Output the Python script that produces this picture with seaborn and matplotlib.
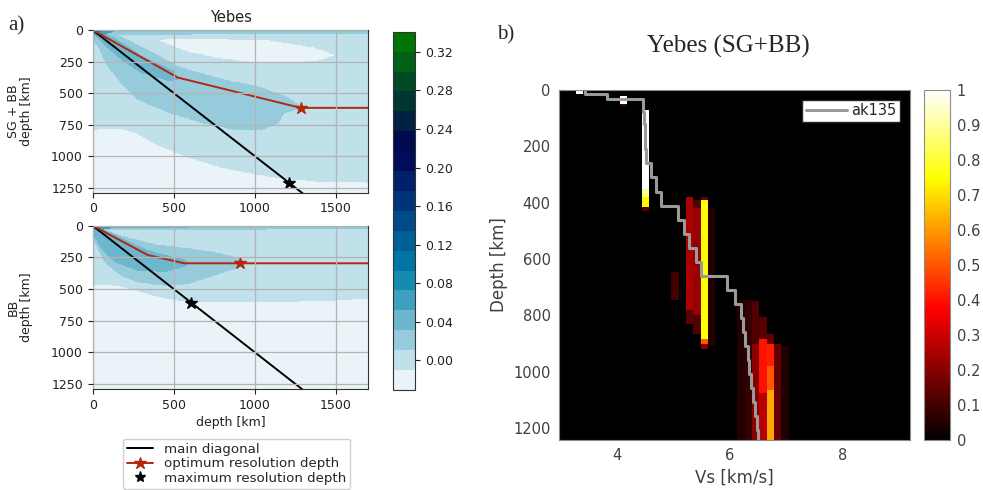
import numpy as np
import pandas as pd
import matplotlib
matplotlib.use('Agg')
import matplotlib.pyplot as plt
from matplotlib.path import Path
from matplotlib.lines import Line2D
from matplotlib.colors import LinearSegmentedColormap
import seaborn as sns

sns.set_style('ticks')
plt.rcParams['font.family'] = ['DejaVu Sans']

## a) resolution matrices -- colour bands (km)
LEVELS = np.linspace(-0.031, 0.341, 19)
BAND = LEVELS[:-1] + np.diff(LEVELS) / 2
CBAR_TICKS = [0.00, 0.04, 0.08, 0.12, 0.16, 0.20, 0.24, 0.28, 0.32]

sgbb_regions = [
    (0, [(-20, 791), (94, 778), (176, 778), (279, 818), (381, 898), (586, 1005), (791, 1086),
         (996, 1139), (1201, 1179), (1406, 1198), (1720, 1206), (1720, 1320), (-20, 1320)]),
    (0, [(402, 80), (443, 70), (791, 68), (1098, 80), (1365, 135), (1508, 198), (1406, 243),
         (1201, 270), (996, 262), (791, 230), (586, 176), (420, 95)]),
    (2, [(-20, -20), (1720, -20), (1720, 25), (600, 30), (-20, 30)]),
    (2, [(-20, -20), (100, 20), (176, 56), (381, 190), (535, 297), (791, 390), (1037, 457),
         (1201, 537), (1262, 591), (1300, 612), (1262, 625), (1180, 658), (1139, 738),
         (1037, 791), (893, 791), (689, 738), (484, 658), (279, 551), (176, 417), (94, 283),
         (33, 123), (-20, 60)]),
    (3, [(-20, -20), (60, 20), (176, 100), (300, 210), (450, 300), (504, 330), (520, 390),
         (480, 400), (450, 390), (300, 337), (176, 230), (80, 120), (20, 40), (-20, 20)]),
    (4, [(-20, -20), (130, -20), (120, 12), (60, 35), (20, 40), (-20, 20)]),
    (6, [(-20, -20), (60, -20), (40, 12), (10, 20), (-20, 10)]),
]

bb_regions = [
    (0, [(-20, 471), (94, 465), (176, 476), (279, 511), (381, 551), (504, 583), (689, 599),
         (996, 604), (1406, 591), (1720, 572), (1720, 1320), (-20, 1320)]),
    (2, [(-20, -20), (1720, -20), (1720, 22), (-20, 30)]),
    (2, [(-20, -20), (33, 16), (176, 83), (381, 150), (586, 182), (791, 222), (893, 257),
         (934, 297), (873, 337), (750, 390), (586, 457), (443, 471), (279, 444), (176, 390),
         (74, 283), (12, 123), (-20, 60)]),
    (3, [(-20, -20), (100, 55), (340, 200), (566, 272), (585, 295), (566, 318), (443, 364),
         (279, 350), (135, 283), (53, 176), (5, 60), (-20, 30)]),
    (3, [(-20, -20), (1200, -20), (1200, 8), (-20, 12)]),
    (4, [(-20, -20), (150, -20), (100, 20), (30, 30), (-20, 15)]),
    (6, [(-20, -20), (50, -20), (30, 10), (-20, 8)]),
]

# optimum resolution depth curves and maximum resolution depth
sgbb_opt_x = [0, 525, 1283, 1700]
sgbb_opt_y = [0, 377, 617, 617]
sgbb_max = 1212
bb_opt_x = [0, 340, 566, 910, 1700]
bb_opt_y = [0, 232, 297, 297, 297]
bb_max = 609

## b) Vs posterior (cells read off the figure)
VS_EDGES = 2.89 + 0.13 * np.arange(50)
DEPTH_EDGES = np.arange(0, 1255, 5)
# (vs left edge, top, bottom, probability)
vs_blocks = [
    (3.28, 0, 15, 1.0),
    (4.06, 18, 51, 1.0), (4.06, 51, 57, 0.1),
    (4.45, 68, 350, 1.0), (4.45, 350, 380, 0.88), (4.45, 380, 414, 0.74), (4.45, 414, 432, 0.12),
    (4.97, 644, 745, 0.1),
    (5.23, 378, 780, 0.25), (5.23, 780, 828, 0.14),
    (5.36, 390, 420, 0.12), (5.36, 420, 800, 0.22), (5.36, 800, 863, 0.12),
    (5.49, 378, 390, 0.15), (5.49, 390, 887, 0.75), (5.49, 887, 899, 0.5), (5.49, 899, 922, 0.2),
    (5.62, 415, 911, 0.05),
    (6.14, 745, 1250, 0.05),
    (6.27, 745, 1250, 0.08),
    (6.40, 751, 900, 0.12), (6.40, 900, 1250, 0.2),
    (6.53, 804, 887, 0.13), (6.53, 887, 1076, 0.40), (6.53, 1076, 1250, 0.27),
    (6.66, 863, 899, 0.15), (6.66, 899, 981, 0.42), (6.66, 981, 1064, 0.5), (6.66, 1064, 1250, 0.62),
    (6.79, 899, 1250, 0.15),
    (6.92, 910, 1250, 0.05),
]

ak135_depth = [0, 15, 33, 77.5, 120, 165, 210, 260, 310, 360, 410, 460, 510, 560, 610, 660,
               710, 760, 809.5, 859, 908.5, 958, 1007.5, 1057, 1106.5, 1156, 1205.5, 1255]
ak135_vs = [3.44, 3.83, 4.47, 4.49, 4.50, 4.51, 4.52, 4.61, 4.70, 4.78, 5.08, 5.19, 5.29, 5.40,
            5.50, 5.96, 6.09, 6.21, 6.24, 6.28, 6.32, 6.35, 6.39, 6.42, 6.45, 6.48, 6.51, 6.54]

### build the fields
gx = np.arange(0, 1705, 5.0)
gy = np.arange(0, 1305, 5.0)
GX, GY = np.meshgrid(gx, gy)
pts = np.column_stack([GX.ravel(), GY.ravel()])


def field(regions):
    z = np.full(GX.shape, BAND[1])
    for band, poly in regions:
        inside = Path(poly).contains_points(pts).reshape(GX.shape)
        z[inside] = BAND[band]
    return z


H = np.zeros((len(DEPTH_EDGES) - 1, len(VS_EDGES) - 1))
dmid = DEPTH_EDGES[:-1] + 2.5
for vs_left, top, bot, val in vs_blocks:
    col = int(round((vs_left - 2.89) / 0.13))
    H[(dmid >= top) & (dmid < bot), col] = val

# matlab-like hot (pure black at zero)
hot = LinearSegmentedColormap.from_list(
    'mhot', [(0, 'black'), (0.375, 'red'), (0.75, 'yellow'), (1, 'white')])

## Figure
fig = plt.figure(figsize=(9.83, 4.90), dpi=100)
ax1 = fig.add_axes([0.0943, 0.6067, 0.2804, 0.332])
ax2 = fig.add_axes([0.0943, 0.2061, 0.2804, 0.3333])
cax1 = fig.add_axes([0.3995, 0.2041, 0.0227, 0.7312])
ax3 = fig.add_axes([0.5687, 0.102, 0.3571, 0.7153])
cax3 = fig.add_axes([0.9403, 0.102, 0.026, 0.7143])

red = '#b3260f'
for ax, regions, ox, oy, mx, lab in [(ax1, sgbb_regions, sgbb_opt_x, sgbb_opt_y, sgbb_max, 'SG + BB\ndepth [km]'),
                                     (ax2, bb_regions, bb_opt_x, bb_opt_y, bb_max, 'BB\ndepth [km]')]:
    cs = ax.contourf(GX, GY, field(regions), levels=LEVELS, cmap='ocean_r')
    ax.plot([0, 1700], [0, 1700], color='black', lw=1.4)
    ax.plot(ox, oy, color=red, lw=1.4)
    ax.plot(ox[-2], oy[-2], marker='*', color=red, ms=9, ls='none')
    ax.plot(mx, mx, marker='*', color='black', ms=9, ls='none')
    ax.set_xlim(0, 1700)
    ax.set_ylim(1290, 0)
    ax.set_xticks([0, 500, 1000, 1500])
    ax.set_yticks([0, 250, 500, 750, 1000, 1250])
    ax.set_axisbelow(False)
    ax.grid(True, color='#b4b4b4', lw=0.9)
    ax.tick_params(labelsize=9, length=3.5, width=0.8, colors='#222222')
    for s in ax.spines.values():
        s.set_color('#333333')
        s.set_linewidth(0.8)
    ax.set_ylabel(lab, fontsize=9, color='#222222', linespacing=1.0)
    ax.yaxis.set_label_coords(-0.217, 0.5)

ax1.set_title('Yebes', fontsize=10.5, pad=6, color='#222222')
ax2.set_xlabel('depth [km]', fontsize=9, color='#222222', labelpad=3)

cb1 = fig.colorbar(cs, cax=cax1, ticks=CBAR_TICKS)
cb1.ax.set_yticklabels(['%.2f' % t for t in CBAR_TICKS])
cb1.ax.tick_params(labelsize=9, length=3.5, width=0.8, colors='#222222')
cb1.outline.set_edgecolor('#333333')
cb1.outline.set_linewidth(0.8)

handles = [Line2D([], [], color='black', lw=1.4),
           Line2D([], [], color=red, lw=1.4, marker='*', ms=9),
           Line2D([], [], color='black', ls='none', marker='*', ms=8)]
fig.legend(handles, ['main diagonal', 'optimum resolution depth', 'maximum resolution depth'],
           loc='upper center', bbox_to_anchor=(0.2406, 1 - 432 / 490), fontsize=9.6,
           handlelength=2.0, borderpad=0.3, labelspacing=0.12, handletextpad=0.8,
           framealpha=1, edgecolor='#d0d0d0')

## b)
mesh = ax3.pcolormesh(VS_EDGES, DEPTH_EDGES, H, cmap=hot, vmin=0, vmax=1, shading='flat')
ak = pd.DataFrame({'vs': ak135_vs, 'depth': ak135_depth})
sns.lineplot(data=ak, x='vs', y='depth', sort=False, estimator=None, ax=ax3,
             color='#9a9a9a', lw=2.2, drawstyle='steps-pre', label='ak135')
ax3.set_facecolor('black')
ax3.set_xlim(2.98, 9.2)
ax3.set_ylim(1242, -2)
ax3.set_xticks([4, 6, 8])
ax3.set_yticks([0, 200, 400, 600, 800, 1000, 1200])
ax3.tick_params(direction='in', length=4, width=0.8, color='#8c8c8c', labelcolor='#404040',
                labelsize=10.5, top=True, right=True, pad=6)
for s in ax3.spines.values():
    s.set_color('#8c8c8c')
    s.set_linewidth(0.8)
ax3.set_xlabel('Vs [km/s]', fontsize=12, color='#404040', labelpad=4)
ax3.set_ylabel('Depth [km]', fontsize=12, color='#404040', labelpad=4)
leg = ax3.legend(loc='upper right', fontsize=10.5, fancybox=False, framealpha=1,
                 edgecolor='#262626', handlelength=2.8, borderpad=0.25, handletextpad=0.3,
                 borderaxespad=0.7)
for t in leg.get_texts():
    t.set_color('#262626')

cb3 = fig.colorbar(mesh, cax=cax3, ticks=np.round(np.arange(0, 1.01, 0.1), 1))
cb3.ax.set_yticklabels(['0', '0.1', '0.2', '0.3', '0.4', '0.5', '0.6', '0.7', '0.8', '0.9', '1'])
cb3.ax.tick_params(direction='in', length=3, width=0.8, color='#8c8c8c', labelcolor='#404040',
                   labelsize=10.5, pad=5)
cb3.outline.set_edgecolor('#8c8c8c')
cb3.outline.set_linewidth(0.8)

fig.text(8 / 983, 1 - 30 / 490, 'a)', family='Liberation Serif', fontsize=15, va='baseline')
fig.text(497 / 983, 1 - 39 / 490, 'b)', family='Liberation Serif', fontsize=15, va='baseline')
fig.text(728 / 983, 1 - 52.5 / 490, 'Yebes (SG+BB)', family='Liberation Serif', fontsize=18,
         ha='center', va='baseline')

fig.savefig('out.png', dpi=100)
